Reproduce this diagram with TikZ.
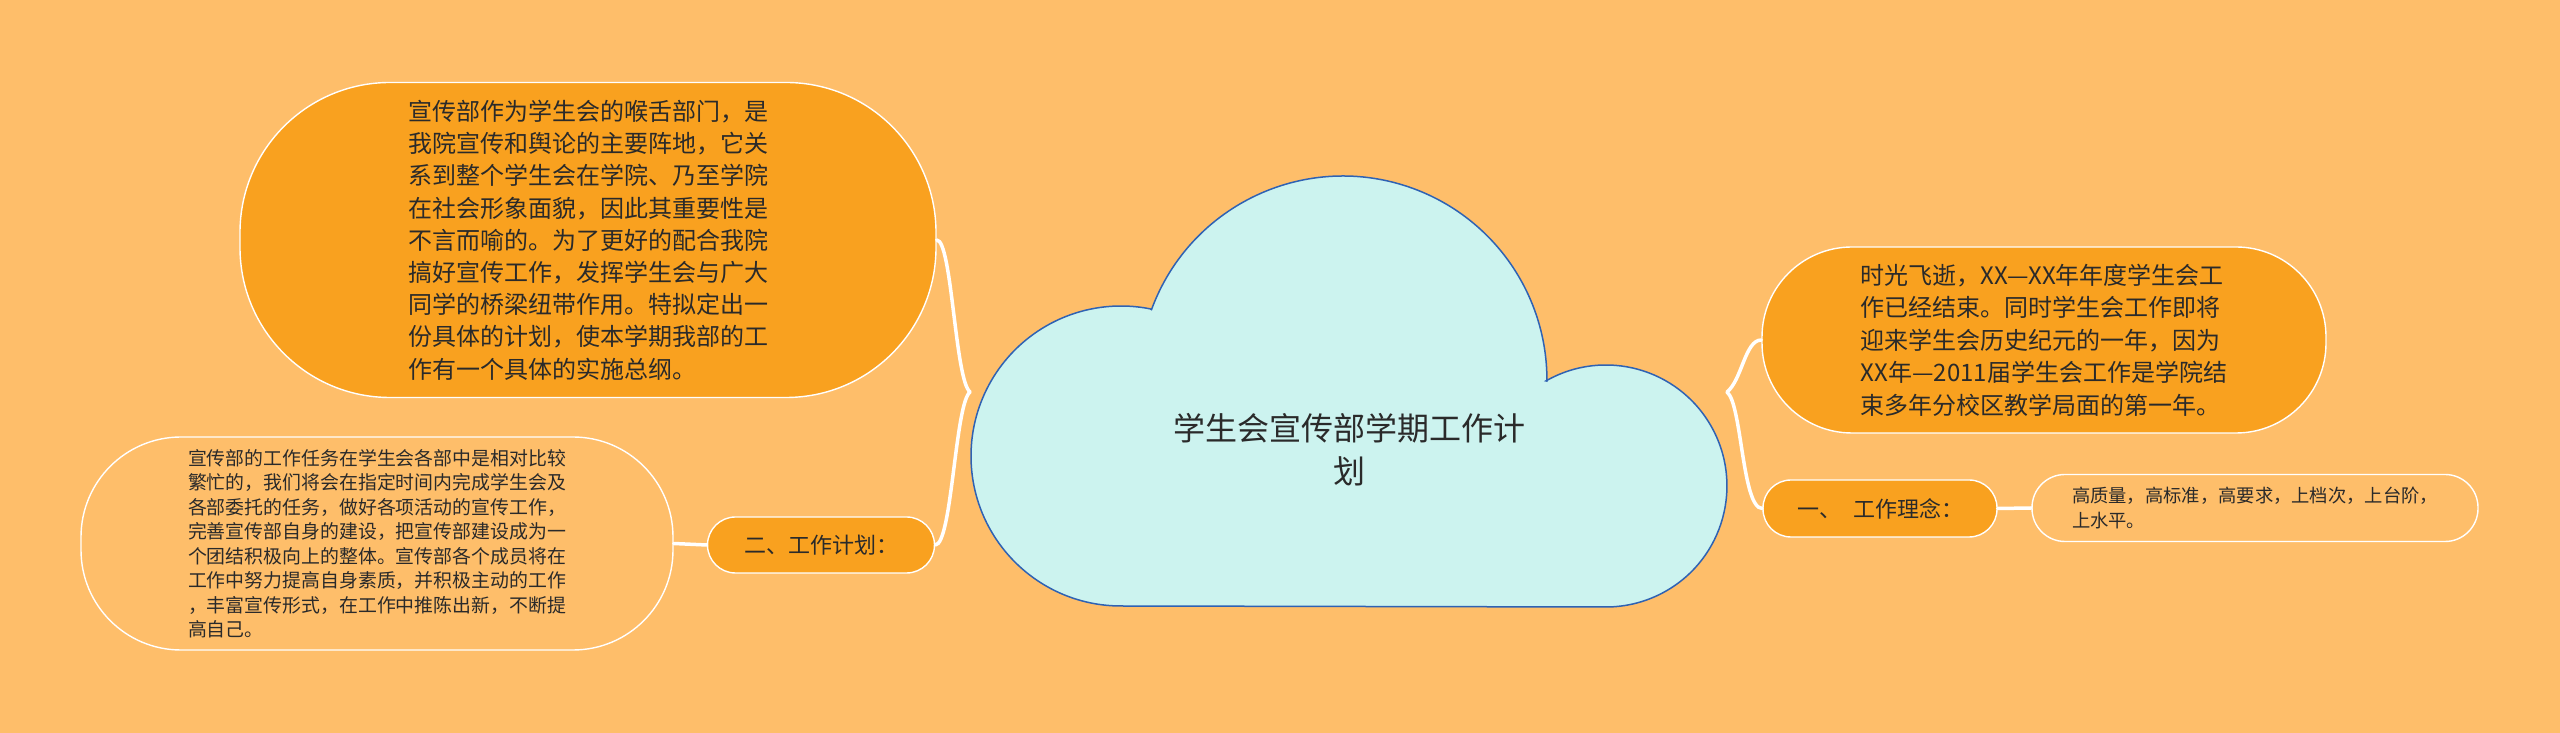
\documentclass[tikz,border=0pt]{standalone}
\usepackage{fontspec}
\newfontfamily\cjk{Noto Sans CJK SC}
\definecolor{bg}{HTML}{FEBE6A}
\definecolor{org}{HTML}{F9A11F}
\definecolor{cloudfill}{HTML}{CCF3EF}
\definecolor{cloudline}{HTML}{2F62B3}
\definecolor{txt}{HTML}{2A2A2A}
\begin{document}
\begin{tikzpicture}[x=1pt,y=1pt,
  box/.style={draw=white, line width=1.4pt, inner sep=0pt, align=left, text=txt},
  orangebox/.style={box, fill=org},
  lightbox/.style={box, fill=bg},
  link/.style={draw=white, line width=3.5pt, line cap=round}]
\useasboundingbox (0,0) rectangle (2560,733);
\fill[bg] (0,0) rectangle (2560,733);
% cloud
\draw[fill=cloudfill, draw=cloudline, line width=1.5pt]
  (1121,127) arc[start angle=270, end angle=78.8, radius=150pt]
  -- (1151.5,423.4) arc[start angle=159.8, end angle=-0.3, radius=204pt]
  -- (1546,352.1) arc[start angle=119.7, end angle=-90, radius=121pt]
  -- cycle;
\node[text=txt, align=center, font=\cjk\fontsize{32}{43}\selectfont] (root) at (1349,283.5)
  {学生会宣传部学期工作计\\划};
\coordinate (lt) at (970,341);
\coordinate (rt) at (1727,341);
% left side
\node[orangebox, rounded corners=150pt, minimum width=696pt, minimum height=315pt,
  font=\cjk\fontsize{24}{32.2}\selectfont] (n1) at (588,493)
  {宣传部作为学生会的喉舌部门，是\\我院宣传和舆论的主要阵地，它关\\系到整个学生会在学院、乃至学院\\在社会形象面貌，因此其重要性是\\不言而喻的。为了更好的配合我院\\搞好宣传工作，发挥学生会与广大\\同学的桥梁纽带作用。特拟定出一\\份具体的计划，使本学期我部的工\\作有一个具体的实施总纲。};
\node[orangebox, rounded corners=28pt, minimum width=227pt, minimum height=56pt,
  font=\cjk\fontsize{22}{26}\selectfont] (n2) at (821,188)
  {二、工作计划：};
\node[lightbox, rounded corners=100pt, minimum width=592pt, minimum height=213pt,
  font=\cjk\fontsize{18.9}{24.5}\selectfont] (n3) at (377,189.5)
  {宣传部的工作任务在学生会各部中是相对比较\\繁忙的，我们将会在指定时间内完成学生会及\\各部委托的任务，做好各项活动的宣传工作，\\完善宣传部自身的建设，把宣传部建设成为一\\个团结积极向上的整体。宣传部各个成员将在\\工作中努力提高自身素质，并积极主动的工作\\，丰富宣传形式，在工作中推陈出新，不断提\\高自己。};
% right side
\node[orangebox, rounded corners=90pt, minimum width=564pt, minimum height=186pt,
  font=\cjk\fontsize{24}{32.5}\selectfont] (n4) at (2044,393)
  {时光飞逝，XX—XX年年度学生会工\\作已经结束。同时学生会工作即将\\迎来学生会历史纪元的一年，因为\\XX年—2011届学生会工作是学院结\\束多年分校区教学局面的第一年。};
\node[orangebox, rounded corners=28pt, minimum width=234pt, minimum height=57pt,
  font=\cjk\fontsize{22}{26}\selectfont] (n5) at (1880,224.5)
  {一、\hspace{12pt}工作理念：};
\node[lightbox, rounded corners=33pt, minimum width=446pt, minimum height=67pt,
  font=\cjk\fontsize{18.3}{25}\selectfont] (n6) at (2255,225)
  {高质量，高标准，高要求，上档次，上台阶，\\上水平。};
% connectors
\draw[link] (lt) .. controls (955,353) and (952,493) .. (n1.east);
\draw[link] (lt) .. controls (955,329) and (952,188) .. (n2.east);
\draw[link] (n2.west) -- (n3.east);
\draw[link] (rt) .. controls (1742,353) and (1745,393) .. (n4.west);
\draw[link] (rt) .. controls (1742,329) and (1742,224.5) .. (n5.west);
\draw[link] (n5.east) -- (n6.west);
\end{tikzpicture}
\end{document}
